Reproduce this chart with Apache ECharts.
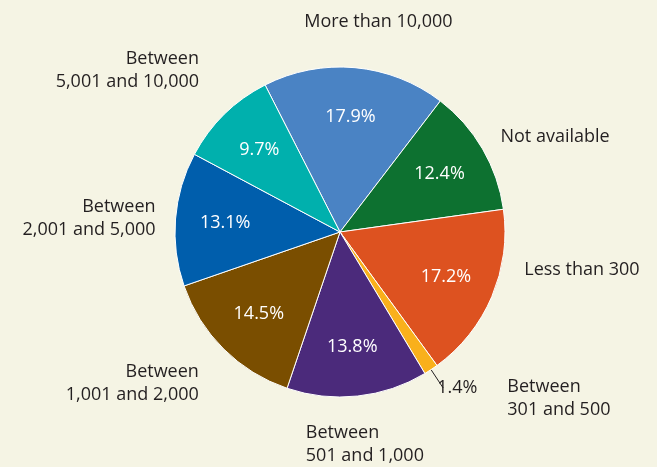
<!DOCTYPE html>
<html>
<head>
<meta charset="utf-8">
<script src="https://cdn.jsdelivr.net/npm/echarts@6/dist/echarts.min.js"></script>
<style>
  html, body { margin: 0; padding: 0; background: #f5f4e4; }
  #chart { width: 657px; height: 467px; }
</style>
</head>
<body>
<div id="chart"></div>
<script>
// slices, clockwise from the top-left boundary
const categories = [
  'More than 10,000',
  'Not available',
  'Less than 300',
  'Between\n301 and 500',
  'Between\n501 and 1,000',
  'Between\n1,001 and 2,000',
  'Between\n2,001 and 5,000',
  'Between\n5,001 and 10,000'
];
const shares = [17.9, 12.4, 17.2, 1.4, 13.8, 14.5, 13.1, 9.7];
const colors = ['#4a83c4', '#0d7130', '#dd5220', '#f9b01b', '#4b2a7b', '#7a4e00', '#005eac', '#00b0ad'];

// where the category names sit (label line length / length2, line hidden)
const nameLine = [[46, -60], [23, -7], [-68, 90], [35, 52], [49, -62], [48, -14], [13, 2], [62, -23]];

const cx = 340, cy = 232, r = 165;
const font = '"Open Sans", "DejaVu Sans", sans-serif';

let chart = echarts.init(document.getElementById('chart'));

chart.setOption({
    backgroundColor: '#f5f4e4',
    animation: false,
    series: [
        {
            // the slices and the category names
            type: 'pie',
            center: [cx, cy],
            radius: [0, r],
            startAngle: 117,
            clockwise: true,
            avoidLabelOverlap: false,
            silent: true,
            itemStyle: { borderColor: '#ffffff', borderWidth: 1 },
            label: {
                show: true,
                position: 'outside',
                formatter: '{b}',
                color: '#231f20',
                fontFamily: font,
                fontSize: 18,
                lineHeight: 23
            },
            labelLine: { show: false },
            data: categories.map((name, i) => ({
                name: name,
                value: shares[i],
                itemStyle: { color: colors[i] },
                labelLine: { show: false, length: nameLine[i][0], length2: nameLine[i][1] }
            }))
        },
        {
            // percentages inside the slices
            type: 'pie',
            center: [cx, cy],
            radius: [0, r * 1.36],
            startAngle: 117,
            clockwise: true,
            avoidLabelOverlap: false,
            silent: true,
            itemStyle: { color: 'rgba(0,0,0,0)', borderWidth: 0 },
            label: {
                show: true,
                position: 'inside',
                formatter: p => p.value.toFixed(1) + '%',
                color: '#ffffff',
                fontFamily: font,
                fontSize: 18
            },
            data: categories.map((name, i) => ({
                name: name,
                value: shares[i],
                label: { show: shares[i] > 5 }
            }))
        },
        {
            // the small slice gets its percentage outside with a leader line
            type: 'pie',
            center: [cx, cy],
            radius: [0, r],
            startAngle: 117,
            clockwise: true,
            avoidLabelOverlap: false,
            silent: true,
            itemStyle: { color: 'rgba(0,0,0,0)', borderWidth: 0 },
            label: {
                show: true,
                position: 'outside',
                formatter: p => p.value.toFixed(1) + '%',
                color: '#231f20',
                fontFamily: font,
                fontSize: 18,
                padding: [12, 0, 0, 0],
                distanceToLabelLine: -6
            },
            labelLine: {
                show: true,
                length: 22,
                length2: 0,
                lineStyle: { color: '#231f20', width: 1 }
            },
            data: categories.map((name, i) => ({
                name: name,
                value: shares[i],
                label: { show: shares[i] <= 5 },
                labelLine: { show: shares[i] <= 5 }
            }))
        }
    ]
})
</script>
</body>
</html>
